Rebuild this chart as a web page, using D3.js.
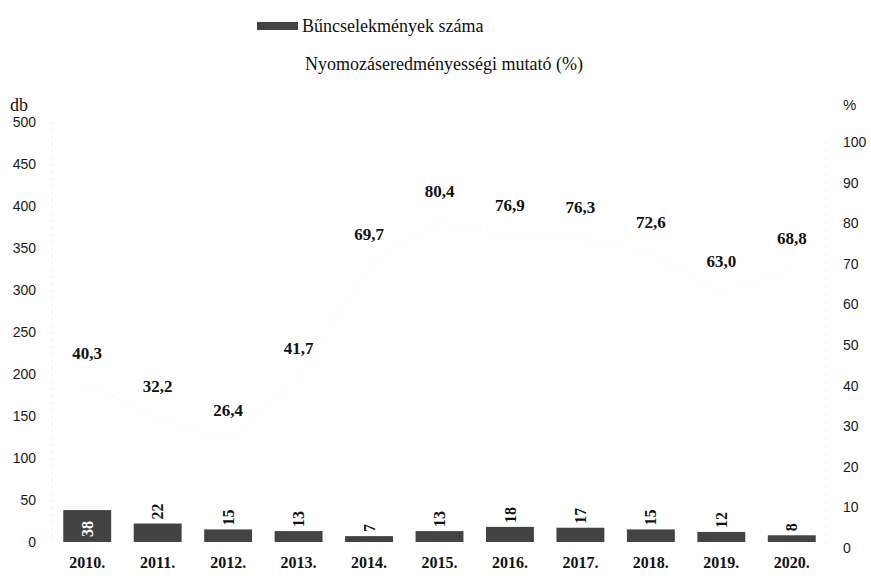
<!DOCTYPE html>
<html>
<head>
<meta charset="utf-8">
<script src="https://cdn.jsdelivr.net/npm/d3@7"></script>
<style>
  body { margin: 0; background: #fff; }
  svg { display: block; }
</style>
</head>
<body>
<div id="chart"></div>
<script>
// data
const years = ["2010.", "2011.", "2012.", "2013.", "2014.", "2015.", "2016.", "2017.", "2018.", "2019.", "2020."];
const crimes = [38, 22, 15, 13, 7, 13, 18, 17, 15, 12, 8];
const clearance = [40.3, 32.2, 26.4, 41.7, 69.7, 80.4, 76.9, 76.3, 72.6, 63.0, 68.8];
const leftTicks = [0, 50, 100, 150, 200, 250, 300, 350, 400, 450, 500];
const rightTicks = [0, 10, 20, 30, 40, 50, 60, 70, 80, 90, 100];
const barLabel = "Bűncselekmények száma";
const lineLabel = "Nyomozáseredményességi mutató (%)";

const width = 871, height = 578;
const serif = "'Liberation Serif', 'Times New Roman', serif";
const sans = "'Liberation Sans', Arial, sans-serif";

const svg = d3.select("#chart").append("svg")
  .attr("width", width)
  .attr("height", height);

const x = d3.scaleBand()
  .domain(years)
  .range([52, 827])
  .paddingInner(0.32)
  .paddingOuter(0.16);

const yL = d3.scaleLinear().domain([0, 500]).range([542, 122]);
const yR = d3.scaleLinear().domain([0, 100]).range([548, 142]);

const huFmt = d3.formatLocale({decimal: ",", thousands: " ", grouping: [3], currency: ["", " Ft"]}).format(".1f");

// faint vertical guides (axis lines almost gone in the scan)
svg.append("line")
  .attr("x1", 52).attr("x2", 52)
  .attr("y1", yL(500)).attr("y2", yL(0))
  .attr("stroke", "#e4e4e4")
  .attr("stroke-dasharray", "2,5");
svg.append("line")
  .attr("x1", 826).attr("x2", 826)
  .attr("y1", yR(100)).attr("y2", yR(0))
  .attr("stroke", "#eeeeee")
  .attr("stroke-dasharray", "2,6");

// left axis
const axL = svg.append("g")
  .attr("transform", "translate(52,0)")
  .call(d3.axisLeft(yL).tickValues(leftTicks).tickSize(0).tickPadding(16));
axL.select(".domain").remove();
axL.selectAll("text")
  .attr("font-family", sans)
  .attr("font-size", 14)
  .attr("fill", "#1a1a1a");

// right axis
const axR = svg.append("g")
  .attr("transform", "translate(826,0)")
  .call(d3.axisRight(yR).tickValues(rightTicks).tickSize(0).tickPadding(17));
axR.select(".domain").remove();
axR.selectAll("text")
  .attr("font-family", sans)
  .attr("font-size", 14)
  .attr("fill", "#1a1a1a");

// year labels
const axX = svg.append("g")
  .attr("transform", "translate(0," + yL(0) + ")")
  .call(d3.axisBottom(x).tickSize(0).tickPadding(15));
axX.select(".domain").remove();
axX.selectAll("text")
  .attr("font-family", serif)
  .attr("font-weight", "bold")
  .attr("font-size", 16)
  .attr("fill", "#111");

// axis units
svg.append("text")
  .attr("x", 10).attr("y", 105)
  .attr("dy", "0.35em")
  .attr("font-family", serif)
  .attr("font-size", 18)
  .attr("fill", "#111")
  .text("db");
svg.append("text")
  .attr("x", 843).attr("y", 105)
  .attr("dy", "0.35em")
  .attr("font-family", sans)
  .attr("font-size", 15)
  .attr("fill", "#222")
  .text("%");

// bars
svg.append("g")
  .selectAll("rect")
  .data(crimes)
  .enter()
  .append("rect")
  .attr("x", (d, i) => x(years[i]))
  .attr("y", d => yL(d))
  .attr("width", x.bandwidth())
  .attr("height", d => yL(0) - yL(d))
  .attr("fill", "#434343");

// bar value labels, rotated
svg.append("g")
  .selectAll("text")
  .data(crimes)
  .enter()
  .append("text")
  .attr("transform", (d, i) => {
    const cx = x(years[i]) + x.bandwidth() / 2;
    const cy = d > 30 ? yL(0) - 5 : yL(d) - 4;
    return "translate(" + cx + "," + cy + ") rotate(-90)";
  })
  .attr("dy", "0.35em")
  .attr("font-family", serif)
  .attr("font-weight", "bold")
  .attr("font-size", 16)
  .attr("fill", d => d > 30 ? "#fff" : "#111")
  .text(d => d);

// clearance rate line (barely visible in the scan)
const line = d3.line()
  .x((d, i) => x(years[i]) + x.bandwidth() / 2)
  .y(d => yR(d));
svg.append("path")
  .datum(clearance)
  .attr("d", line)
  .attr("fill", "none")
  .attr("stroke", "#f2f2f2")
  .attr("stroke-width", 1)
  .attr("stroke-dasharray", "1,6");

// clearance rate labels
svg.append("g")
  .selectAll("text")
  .data(clearance)
  .enter()
  .append("text")
  .attr("x", (d, i) => x(years[i]) + x.bandwidth() / 2)
  .attr("y", d => yR(d) - 31)
  .attr("dy", "0.35em")
  .attr("text-anchor", "middle")
  .attr("font-family", serif)
  .attr("font-weight", "bold")
  .attr("font-size", 17)
  .attr("fill", "#111")
  .text(d => huFmt(d));

// legend
svg.append("rect")
  .attr("x", 257).attr("y", 22)
  .attr("width", 41).attr("height", 8)
  .attr("fill", "#434343");
svg.append("text")
  .attr("x", 302).attr("y", 26)
  .attr("dy", "0.35em")
  .attr("font-family", serif)
  .attr("font-size", 18)
  .attr("fill", "#111")
  .text(barLabel);
svg.append("text")
  .attr("x", 305).attr("y", 64)
  .attr("dy", "0.35em")
  .attr("font-family", serif)
  .attr("font-size", 18)
  .attr("fill", "#111")
  .text(lineLabel);
</script>
</body>
</html>
